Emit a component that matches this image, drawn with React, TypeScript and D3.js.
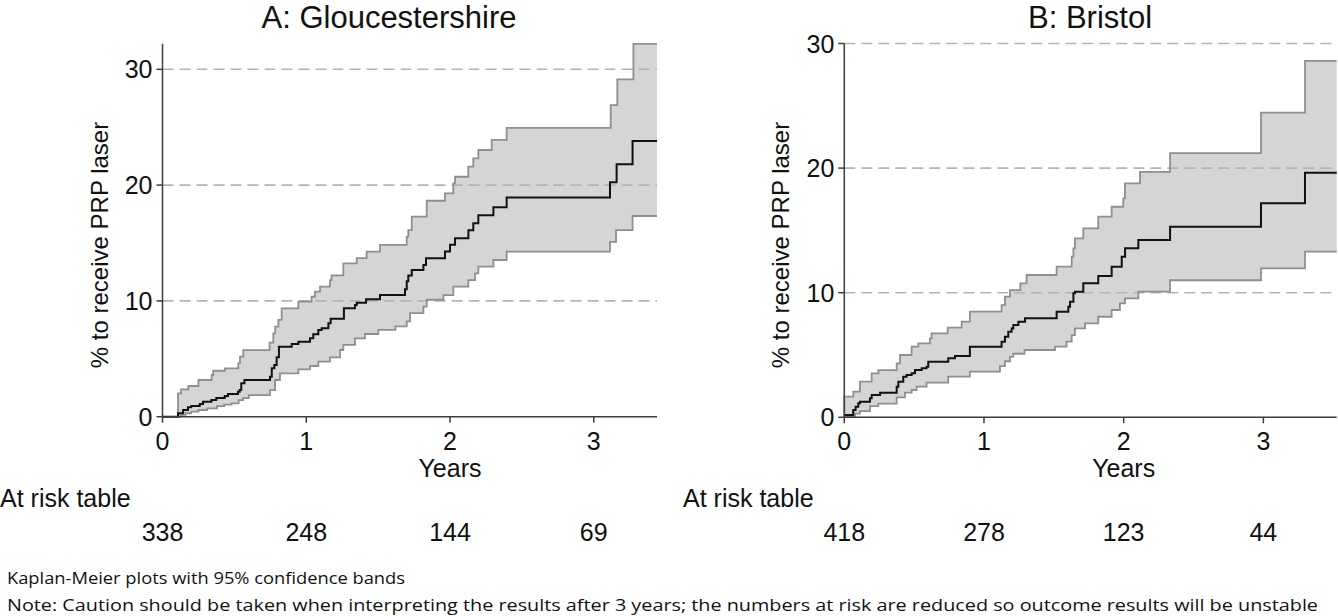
import React from "react";
import * as d3 from "d3";

// ---------- Data ----------
const panelTitles = ["A: Gloucestershire", "B: Bristol"];
const yTicks = [0, 10, 20, 30];
const xTicks = [0, 1, 2, 3];
const gridValues = [10, 20, 30];
const atRiskA = ["338", "248", "144", "69"];
const atRiskB = ["418", "278", "123", "44"];
const yAxisTitle = "% to receive PRP laser";
const xAxisTitle = "Years";
const atRiskTitle = "At risk table";
const footnote1 = "Kaplan-Meier plots with 95% confidence bands";
const footnote2 =
  "Note: Caution should be taken when interpreting the results after 3 years; the numbers at risk are reduced so outcome results will be unstable";

// Panel A (Gloucestershire) – step functions (time in years, % cumulative)
const gEndT = 3.44;
const gEstT = [0, 0.108, 0.143, 0.177, 0.2, 0.259, 0.282, 0.34, 0.374, 0.433, 0.456, 0.525, 0.537, 0.548, 0.57, 0.748, 0.76, 0.778, 0.794, 0.81, 0.899, 0.945, 1.026, 1.049, 1.084, 1.107, 1.154, 1.17, 1.262, 1.339, 1.351, 1.416, 1.513, 1.687, 1.699, 1.71, 1.734, 1.815, 1.833, 1.965, 2.0, 2.035, 2.128, 2.162, 2.197, 2.302, 2.394, 3.113, 3.159, 3.27];
const gEstV = [0, 0.29, 0.58, 0.81, 0.92, 1.1, 1.3, 1.44, 1.61, 1.79, 1.96, 2.16, 2.3, 2.88, 3.17, 3.45, 4.18, 4.47, 5.13, 6.05, 6.28, 6.48, 6.77, 7.12, 7.49, 7.63, 8.06, 8.45, 9.36, 9.65, 9.85, 10.14, 10.5, 11.0, 11.7, 12.2, 12.67, 13.1, 13.68, 14.27, 14.84, 15.4, 16.1, 16.7, 17.4, 18.08, 18.93, 20.24, 21.79, 23.8];
const gUpT = [0.108, 0.129, 0.18, 0.25, 0.342, 0.353, 0.435, 0.527, 0.539, 0.562, 0.745, 0.771, 0.784, 0.806, 0.829, 0.945, 1.037, 1.06, 1.096, 1.165, 1.176, 1.258, 1.351, 1.42, 1.513, 1.699, 1.71, 1.734, 1.838, 1.965, 2.023, 2.035, 2.127, 2.162, 2.197, 2.29, 2.394, 3.118, 3.164, 3.276];
const gUpV = [2.02, 2.36, 2.65, 3.17, 3.6, 3.97, 4.17, 4.6, 5.18, 5.75, 6.4, 7.2, 7.77, 8.36, 9.36, 9.93, 10.36, 10.8, 11.23, 11.8, 12.2, 13.24, 13.7, 14.25, 14.83, 15.55, 16.12, 17.27, 18.65, 19.29, 20.15, 20.72, 21.59, 22.31, 23.03, 23.9, 24.95, 26.9, 29.13, 32.2];
const gLoT = [0.108, 0.125, 0.16, 0.2, 0.25, 0.31, 0.38, 0.43, 0.48, 0.53, 0.56, 0.6, 0.748, 0.783, 0.817, 0.945, 1.026, 1.084, 1.165, 1.235, 1.258, 1.339, 1.408, 1.501, 1.62, 1.699, 1.722, 1.815, 1.838, 1.954, 2.023, 2.128, 2.174, 2.197, 2.302, 2.394, 3.113, 3.155, 3.27];
const gLoV = [0, 0.15, 0.3, 0.44, 0.58, 0.72, 0.92, 1.05, 1.15, 1.44, 1.6, 1.87, 2.3, 3.17, 3.74, 4.09, 4.38, 4.75, 5.13, 5.76, 6.2, 6.77, 7.14, 7.5, 7.8, 8.23, 8.95, 9.5, 10.1, 10.5, 11.23, 11.8, 12.38, 12.96, 13.53, 14.25, 15.1, 16.12, 17.33];

// Panel B (Bristol)
const bEndT = 3.525;
const bEstT = [0, 0.064, 0.081, 0.1, 0.112, 0.184, 0.196, 0.256, 0.375, 0.387, 0.422, 0.446, 0.482, 0.506, 0.554, 0.589, 0.601, 0.744, 0.792, 0.899, 1.126, 1.15, 1.174, 1.198, 1.21, 1.246, 1.294, 1.52, 1.604, 1.616, 1.64, 1.651, 1.711, 1.818, 1.914, 1.986, 2.01, 2.105, 2.332, 2.983, 3.298];
const bEstV = [0.18, 0.59, 0.85, 1.12, 1.25, 1.52, 1.79, 1.97, 2.45, 2.86, 3.26, 3.39, 3.53, 3.79, 3.93, 4.06, 4.46, 4.73, 4.92, 5.66, 6.06, 6.46, 6.86, 7.13, 7.4, 7.67, 7.94, 8.48, 8.88, 9.28, 9.95, 10.08, 10.75, 11.34, 12.09, 12.89, 13.56, 14.23, 15.3, 17.17, 19.63];
const bUpT = [0, 0.065, 0.112, 0.196, 0.244, 0.375, 0.399, 0.482, 0.53, 0.613, 0.625, 0.74, 0.84, 0.899, 1.126, 1.15, 1.186, 1.26, 1.305, 1.52, 1.628, 1.64, 1.651, 1.711, 1.818, 1.914, 1.997, 2.009, 2.117, 2.332, 2.983, 3.298];
const bUpV = [1.66, 2.06, 2.86, 3.53, 3.79, 4.33, 5.0, 5.67, 5.93, 6.34, 6.74, 7.2, 7.68, 8.48, 9.01, 9.68, 10.2, 10.75, 11.42, 12.09, 12.89, 13.56, 14.36, 15.17, 16.1, 16.9, 17.57, 18.77, 19.7, 21.2, 24.45, 28.6];
const bLoT = [0, 0.077, 0.112, 0.184, 0.243, 0.375, 0.434, 0.482, 0.518, 0.589, 0.744, 0.899, 1.114, 1.15, 1.186, 1.21, 1.29, 1.508, 1.591, 1.628, 1.651, 1.723, 1.818, 1.914, 1.973, 2.009, 2.105, 2.332, 2.983, 3.298];
const bLoV = [0.03, 0.3, 0.5, 0.9, 1.1, 1.6, 1.98, 2.19, 2.46, 2.78, 3.26, 3.66, 4.1, 4.5, 4.85, 5.1, 5.4, 5.67, 6.07, 6.6, 7.14, 7.54, 8.07, 8.61, 9.14, 9.55, 10.08, 11.0, 11.95, 13.29];

// ---------- helpers ----------
type Pt = { t: number; v: number };
const toPts = (ts: number[], vs: number[], end: number): Pt[] => {
  const p = ts.map((t, i) => ({ t, v: vs[i] }));
  p.push({ t: end, v: vs[vs.length - 1] });
  return p;
};
const stepAt = (ts: number[], vs: number[], t: number) => {
  let v = vs[0];
  for (let i = 0; i < ts.length; i++) if (ts[i] <= t + 1e-9) v = vs[i];
  return v;
};

const FONT = "'Liberation Sans', Arial, sans-serif";
const NOTE_FONT = "'Open Sans', 'Noto Sans', sans-serif";
const AXIS_COLOR = "#3c3c3c";

type PanelProps = {
  title: string;
  titleX: number;
  x0: number;
  x1: number;
  y0: number;
  y30: number;
  yTopVal: number;
  endT: number;
  estT: number[];
  estV: number[];
  upT: number[];
  upV: number[];
  loT: number[];
  loV: number[];
  atRisk: string[];
  yTitleX: number;
  atRiskX: number;
};

function Panel(p: PanelProps) {
  const x = d3.scaleLinear().domain([0, p.endT]).range([p.x0, p.x1]);
  const y = d3.scaleLinear().domain([0, 30]).range([p.y0, p.y30]);

  const start = Math.min(p.upT[0], p.loT[0]);
  const times = Array.from(new Set([...p.upT, ...p.loT])).filter((t) => t >= start).sort((a, b) => a - b);
  times.push(p.endT);
  const bandPts = times.map((t) => ({ t, lo: stepAt(p.loT, p.loV, t), hi: stepAt(p.upT, p.upV, t) }));
  const area = d3
    .area<{ t: number; lo: number; hi: number }>()
    .x((d) => x(d.t))
    .y0((d) => y(d.lo))
    .y1((d) => y(d.hi))
    .curve(d3.curveStepAfter);

  const line = d3
    .line<Pt>()
    .x((d) => x(d.t))
    .y((d) => y(d.v))
    .curve(d3.curveStepAfter);

  const upPts = [{ t: p.loT[0], v: p.loV[0] }, ...toPts(p.upT, p.upV, p.endT)];
  const loPts = toPts(p.loT, p.loV, p.endT);
  const estPts = toPts(p.estT, p.estV, p.endT);

  const axisTop = y(p.yTopVal);
  const xMid = x(2);

  return (
    <g>
      <text x={p.titleX} y={28} textAnchor="middle" fontFamily={FONT} fontSize={31} fill="#111">
        {p.title}
      </text>
      <path d={area(bandPts) || ""} fill="#d5d5d5" stroke="none" />
      {gridValues.map((g) => (
        <line key={g} x1={p.x0} x2={p.x1} y1={y(g)} y2={y(g)} stroke="#b4b4b4" strokeWidth={1.6} strokeDasharray="11,6" />
      ))}
      <path d={line(upPts) || ""} fill="none" stroke="#8f8f8f" strokeWidth={1.8} />
      <path d={line(loPts) || ""} fill="none" stroke="#8f8f8f" strokeWidth={1.8} />
      <path d={line(estPts) || ""} fill="none" stroke="#111" strokeWidth={2} />
      {/* axes */}
      <line x1={p.x0} x2={p.x0} y1={p.y0} y2={axisTop} stroke={AXIS_COLOR} strokeWidth={1.5} />
      <line x1={p.x0} x2={p.x1} y1={p.y0} y2={p.y0} stroke={AXIS_COLOR} strokeWidth={1.5} />
      {yTicks.map((t) => (
        <g key={t}>
          <line x1={p.x0 - 6} x2={p.x0} y1={y(t)} y2={y(t)} stroke={AXIS_COLOR} strokeWidth={1.5} />
          <text x={p.x0 - 10} y={y(t) + 9} textAnchor="end" fontFamily={FONT} fontSize={25} fill="#111">
            {t}
          </text>
        </g>
      ))}
      {xTicks.map((t, i) => (
        <g key={t}>
          <line x1={x(t)} x2={x(t)} y1={p.y0} y2={p.y0 + 6} stroke={AXIS_COLOR} strokeWidth={1.5} />
          <text x={x(t)} y={450} textAnchor="middle" fontFamily={FONT} fontSize={25} fill="#111">
            {t}
          </text>
          <text x={x(t)} y={541} textAnchor="middle" fontFamily={FONT} fontSize={25} fill="#111">
            {p.atRisk[i]}
          </text>
        </g>
      ))}
      <text x={xMid} y={477} textAnchor="middle" fontFamily={FONT} fontSize={25} fill="#111">
        {xAxisTitle}
      </text>
      <text
        transform={`translate(${p.yTitleX},245) rotate(-90)`}
        textAnchor="middle"
        fontFamily={FONT}
        fontSize={24}
        fill="#111"
      >
        {yAxisTitle}
      </text>
      <text x={p.atRiskX} y={507} fontFamily={FONT} fontSize={25} fill="#111">
        {atRiskTitle}
      </text>
    </g>
  );
}

export default function App() {
  return (
    <svg
      width={1338}
      height={616}
      style={{ position: "absolute", left: 0, top: 0, background: "#fff" }}
    >
      <rect x={0} y={0} width={1338} height={616} fill="#fff" />
      <Panel
        title={panelTitles[0]}
        titleX={389}
        x0={162.5}
        x1={657}
        y0={416.7}
        y30={69.3}
        yTopVal={32.2}
        endT={gEndT}
        estT={gEstT}
        estV={gEstV}
        upT={gUpT}
        upV={gUpV}
        loT={gLoT}
        loV={gLoV}
        atRisk={atRiskA}
        yTitleX={108}
        atRiskX={0}
      />
      <Panel
        title={panelTitles[1]}
        titleX={1090}
        x0={844.3}
        x1={1336.7}
        y0={417.3}
        y30={43.5}
        yTopVal={30}
        endT={bEndT}
        estT={bEstT}
        estV={bEstV}
        upT={bUpT}
        upV={bUpV}
        loT={bLoT}
        loV={bLoV}
        atRisk={atRiskB}
        yTitleX={789}
        atRiskX={683}
      />
      <text x={7} y={584} fontFamily={NOTE_FONT} fontSize={16} fill="#111" textLength={398} lengthAdjust="spacingAndGlyphs">
        {footnote1}
      </text>
      <text x={7} y={611} fontFamily={NOTE_FONT} fontSize={16} fill="#111" textLength={1311} lengthAdjust="spacingAndGlyphs">
        {footnote2}
      </text>
    </svg>
  );
}
